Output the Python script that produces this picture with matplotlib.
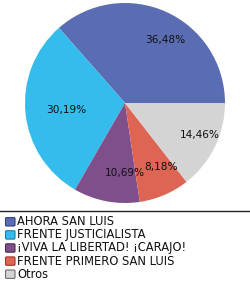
import matplotlib
matplotlib.use("Agg")
import matplotlib.pyplot as plt
from matplotlib.patches import FancyBboxPatch
from matplotlib.lines import Line2D
import numpy as np

categories = ["AHORA SAN LUIS", "FRENTE JUSTICIALISTA", "¡VIVA LA LIBERTAD! ¡CARAJO!",
              "FRENTE PRIMERO SAN LUIS", "Otros"]
values = [36.48, 30.19, 10.69, 8.18, 14.46]
labels = ["36,48%", "30,19%", "10,69%", "8,18%", "14,46%"]
colors = ["#5A6DB3", "#33BCEC", "#7E4F8B", "#DE6453", "#D4D4D4"]
edge_colors = ["#2F3F7A", "#1A7FA6", "#4E2A5A", "#9E3A2C", "#6E6E6E"]

W, H, DPI = 250, 285, 100
fig = plt.figure(figsize=(W / DPI, H / DPI), dpi=DPI)
fig.patch.set_facecolor("white")

cx, cy, r = 125, 103, 100
ax = fig.add_axes([(cx - r) / W, (H - cy - r) / H, 2 * r / W, 2 * r / H])
wedges, texts = ax.pie(values, colors=colors, startangle=0, counterclock=True,
                       radius=1, wedgeprops=dict(linewidth=0))
ax.set_xlim(-1, 1)
ax.set_ylim(-1, 1)
ax.set_aspect("equal")
ax.axis("off")

# label placement (layout): radial distance and angular shift from wedge middle
dists = [0.754, 0.596, 0.70, 0.74, 0.819]
shifts = [-8.4, 1.3, 10.6, 6.3, 2.8]
total = sum(values)
cum = 0
for v, lab, d, s in zip(values, labels, dists, shifts):
    ang = np.deg2rad((cum + v / 2) / total * 360 + s)
    cum += v
    ax.text(d * np.cos(ang), d * np.sin(ang), lab, ha="center", va="center",
            fontsize=7.6, color="#111111")

# separator line
fig.add_artist(Line2D([0, 1], [1 - 210.7 / H, 1 - 210.7 / H], transform=fig.transFigure,
                      color="#222222", linewidth=1))

# legend
y0, dy = 221.8, 13.1
for i, (cat, col, ec) in enumerate(zip(categories, colors, edge_colors)):
    y = y0 + i * dy
    fig.add_artist(FancyBboxPatch((5.5 / W, 1 - (y + 4.2) / H), 9.5 / W, 8.4 / H,
                                  boxstyle="round,pad=0,rounding_size=0.004",
                                  transform=fig.transFigure, facecolor=col,
                                  edgecolor=ec, linewidth=0.8))
    fig.text(17 / W, 1 - y / H, cat, ha="left", va="center", fontsize=8.3,
             color="#111111")

fig.savefig("out.png", dpi=DPI)
